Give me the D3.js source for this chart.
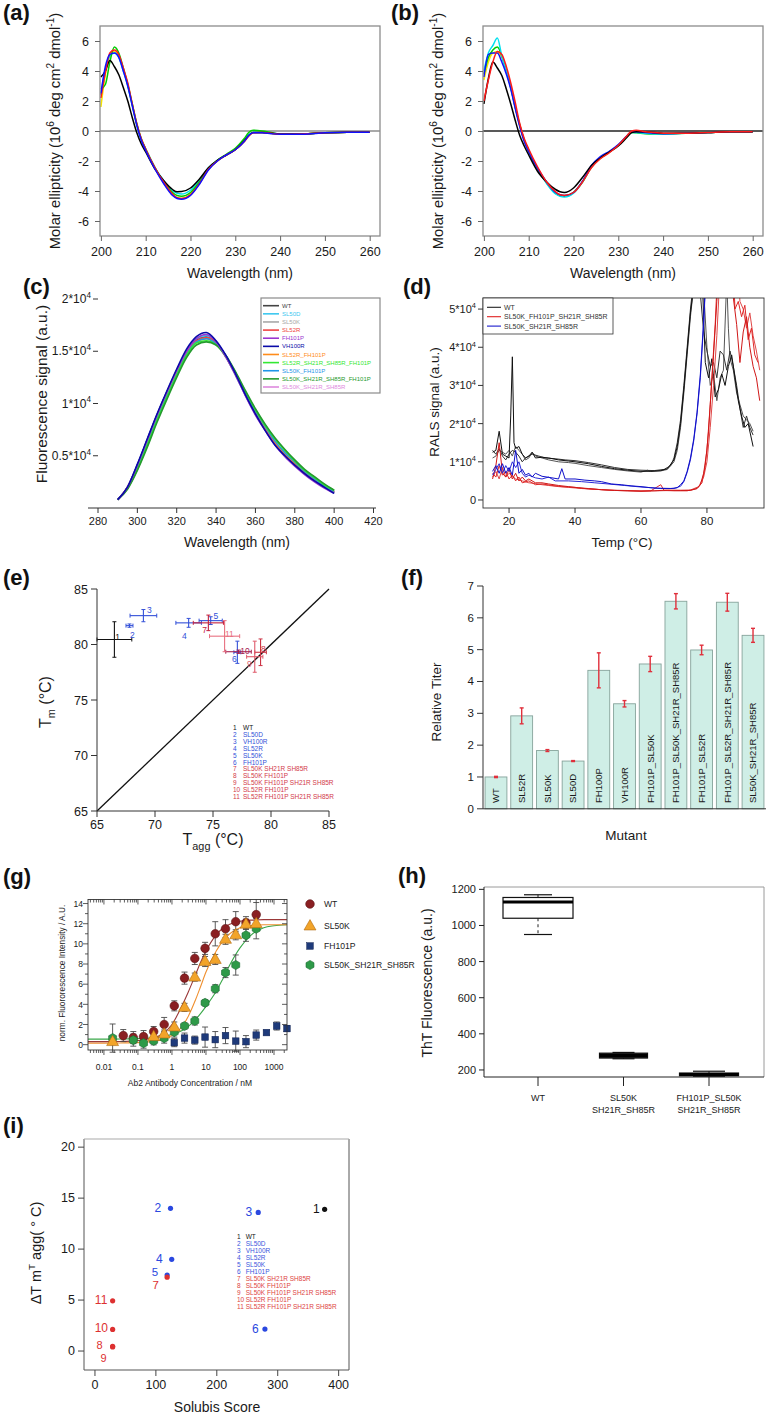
<!DOCTYPE html>
<html><head><meta charset="utf-8">
<script src="https://cdn.jsdelivr.net/npm/d3@7"></script>
<style>body{margin:0;background:#fff}svg{display:block}</style>
</head><body><svg id="fig" width="768" height="1416"></svg>
<script>
// ================= DATA =================
// (a),(b) CD spectra
const cdWavelengths = [200,201,202,203,204,205,206,207,208,209,210,212,214,216,217,218,220,222,224,226,228,230,232,233,234,236,238,240,245,250,255,260];
const cdA_black  = [3.6,4.0,4.7,4.3,3.75,2.9,2.0,0.9,-0.1,-0.85,-1.4,-2.5,-3.3,-3.9,-4.05,-4.04,-3.8,-3.2,-2.45,-1.95,-1.6,-1.25,-0.65,-0.3,-0.1,-0.1,-0.15,-0.2,-0.2,-0.12,-0.08,-0.08];
const cdA_red    = [2.2,3.9,5.2,5.4,5.1,4.2,3.2,1.8,0.5,-0.5,-1.2,-2.4,-3.4,-4.2,-4.45,-4.5,-4.25,-3.5,-2.55,-2.0,-1.6,-1.25,-0.7,-0.35,-0.12,-0.1,-0.15,-0.22,-0.2,-0.12,-0.08,-0.08];
const cdA_blue   = [2.5,4.3,5.1,5.2,4.9,4.0,3.0,1.7,0.4,-0.6,-1.3,-2.5,-3.5,-4.3,-4.5,-4.55,-4.3,-3.55,-2.6,-2.0,-1.6,-1.25,-0.7,-0.3,-0.12,-0.12,-0.18,-0.22,-0.22,-0.12,-0.08,-0.08];
const cdA_cyan   = [2.4,4.1,5.0,5.2,4.9,4.0,3.0,1.7,0.4,-0.6,-1.2,-2.4,-3.3,-4.0,-4.15,-4.2,-3.95,-3.3,-2.45,-1.95,-1.6,-1.2,-0.65,-0.25,-0.08,-0.1,-0.15,-0.2,-0.2,-0.12,-0.08,-0.08];
const cdA_green  = [2.8,3.1,4.6,5.6,5.2,4.2,3.1,1.8,0.5,-0.5,-1.2,-2.4,-3.4,-4.1,-4.3,-4.35,-4.1,-3.4,-2.5,-1.95,-1.55,-1.15,-0.5,-0.1,0.05,0.0,-0.1,-0.2,-0.2,-0.12,-0.08,-0.08];
const cdA_yellow = [1.6,3.8,5.0,5.3,5.0,4.1,3.1,1.8,0.45,-0.55,-1.25,-2.45,-3.45,-4.25,-4.45,-4.5,-4.2,-3.45,-2.55,-2.0,-1.6,-1.25,-0.7,-0.3,-0.1,-0.1,-0.15,-0.22,-0.2,-0.12,-0.08,-0.08];
const cdB_black  = [1.8,3.5,4.6,4.2,3.7,2.8,1.8,0.7,-0.3,-1.0,-1.6,-2.7,-3.4,-3.9,-4.05,-4.1,-3.8,-3.1,-2.3,-1.8,-1.4,-1.0,-0.4,-0.1,-0.05,-0.05,-0.1,-0.15,-0.15,-0.1,-0.05,-0.05];
const cdB_red    = [2.0,3.4,4.6,5.3,5.1,4.3,3.2,1.9,0.5,-0.5,-1.2,-2.4,-3.4,-4.05,-4.25,-4.3,-4.1,-3.4,-2.45,-1.85,-1.45,-0.95,-0.3,0.0,0.05,-0.05,-0.1,-0.15,-0.15,-0.1,-0.05,-0.05];
const cdB_blue   = [3.6,5.1,5.2,5.2,4.6,3.8,2.8,1.5,0.3,-0.7,-1.4,-2.5,-3.4,-4.1,-4.25,-4.3,-4.1,-3.35,-2.3,-1.7,-1.35,-0.9,-0.3,-0.05,-0.05,-0.1,-0.15,-0.18,-0.15,-0.1,-0.05,-0.05];
const cdB_cyan   = [4.0,5.2,5.7,6.2,5.0,4.0,2.9,1.6,0.4,-0.6,-1.3,-2.5,-3.5,-4.2,-4.35,-4.4,-4.15,-3.4,-2.4,-1.8,-1.4,-0.95,-0.35,-0.1,-0.1,-0.15,-0.2,-0.2,-0.15,-0.1,-0.05,-0.05];
const cdB_green  = [3.8,4.9,5.4,5.6,5.0,4.0,2.9,1.6,0.4,-0.6,-1.3,-2.5,-3.45,-4.15,-4.3,-4.35,-4.1,-3.4,-2.4,-1.8,-1.4,-0.95,-0.35,-0.1,-0.12,-0.18,-0.2,-0.2,-0.15,-0.1,-0.05,-0.05];
const cdB_yellow = [3.4,4.6,5.2,5.3,4.9,4.0,2.9,1.6,0.4,-0.6,-1.3,-2.5,-3.45,-4.15,-4.3,-4.3,-4.1,-3.4,-2.4,-1.8,-1.4,-0.95,-0.3,-0.05,-0.05,-0.1,-0.15,-0.18,-0.15,-0.1,-0.05,-0.05];
const cdTicksX = [200,210,220,230,240,250,260];
const cdTicksY = [-6,-4,-2,0,2,4,6];

// (c) intrinsic fluorescence (units of 10^4)
const fluorWavelengths = [290,295,300,305,310,315,320,325,330,335,340,345,350,355,360,365,370,375,380,385,390,395,400];
const fluorNames = ['WT','SL50D','SL50K','SL52R','FH101P','VH100R','SL52R_FH101P','SL52R_SH21R_SH85R_FH101P','SL50K_FH101P','SL50K_SH21R_SH85R_FH101P','SL50K_SH21R_SH85R'];
const fl_WT     = [0.08,0.20,0.41,0.65,0.89,1.11,1.31,1.50,1.61,1.64,1.58,1.45,1.27,1.08,0.90,0.75,0.61,0.50,0.41,0.33,0.26,0.20,0.15];
const fl_SL50D  = [0.08,0.20,0.41,0.65,0.89,1.11,1.31,1.50,1.62,1.65,1.59,1.45,1.27,1.08,0.90,0.75,0.61,0.50,0.41,0.33,0.26,0.20,0.14];
const fl_SL50K  = [0.08,0.20,0.40,0.64,0.88,1.10,1.30,1.49,1.61,1.64,1.58,1.45,1.27,1.08,0.90,0.75,0.61,0.50,0.41,0.33,0.26,0.20,0.15];
const fl_SL52R  = [0.08,0.20,0.40,0.64,0.88,1.10,1.30,1.49,1.60,1.63,1.58,1.45,1.28,1.09,0.91,0.76,0.62,0.51,0.42,0.34,0.27,0.21,0.15];
const fl_FH101P = [0.08,0.20,0.41,0.65,0.89,1.11,1.32,1.50,1.62,1.66,1.59,1.45,1.27,1.07,0.89,0.74,0.60,0.49,0.40,0.32,0.25,0.19,0.14];
const fl_VH100R = [0.08,0.20,0.42,0.66,0.90,1.12,1.33,1.52,1.64,1.68,1.60,1.46,1.28,1.08,0.90,0.74,0.60,0.50,0.41,0.33,0.26,0.20,0.14];
const fl_SL52R_FH101P = [0.08,0.19,0.39,0.62,0.86,1.08,1.29,1.47,1.59,1.62,1.57,1.45,1.28,1.09,0.92,0.77,0.63,0.52,0.43,0.35,0.28,0.21,0.16];
const fl_SL52R_SH21R_SH85R_FH101P = [0.08,0.19,0.37,0.60,0.84,1.06,1.27,1.46,1.58,1.60,1.56,1.45,1.29,1.11,0.94,0.79,0.66,0.55,0.45,0.36,0.29,0.22,0.17];
const fl_SL50K_FH101P = [0.08,0.19,0.38,0.61,0.85,1.07,1.28,1.47,1.59,1.62,1.57,1.45,1.29,1.10,0.93,0.78,0.64,0.53,0.44,0.35,0.28,0.21,0.16];
const fl_SL50K_SH21R_SH85R_FH101P = [0.08,0.18,0.36,0.58,0.82,1.04,1.25,1.44,1.56,1.59,1.56,1.46,1.30,1.12,0.95,0.80,0.67,0.56,0.46,0.37,0.30,0.23,0.17];
const fl_SL50K_SH21R_SH85R = [0.08,0.20,0.40,0.63,0.87,1.09,1.29,1.48,1.60,1.63,1.57,1.44,1.27,1.08,0.90,0.75,0.61,0.50,0.41,0.33,0.26,0.20,0.15];
const fluorTicksX = [280,300,320,340,360,380,400,420];
const fluorTicksY = [0.5,1,1.5,2];

// (d) RALS  [temperature, signal/10^4]
const ralsNames = ['WT','SL50K_FH101P_SH21R_SH85R','SL50K_SH21R_SH85R'];
const ralsWT1 = [[15,1.25],[16,1.3],[17,1.8],[18,1.2],[19,1.15],[20,1.1],[20.5,2.2],[21,3.75],[21.5,1.5],[22,1.35],[23,1.4],[24,1.2],[25,1.1],[26,1.15],[27,1.25],[28,1.1],[30,1.12],[32,1.1],[35,1.05],[38,1.02],[40,1.0],[44,0.95],[48,0.88],[52,0.82],[56,0.78],[60,0.75],[63,0.75],[66,0.77],[68,0.82],[70,1.05],[71,1.4],[72,2.0],[73,2.9],[74,3.9],[75,4.9],[76,5.6],[77,7],[78.5,6],[79.5,3.6],[80.5,3.2],[81.5,3.7],[82.5,2.7],[83.5,2.9],[84.5,3.3],[85.5,3.0],[86.5,3.5],[87.5,3.8],[88.5,3.2],[89.5,2.6],[90.5,2.2],[91.5,1.9],[92.5,2.0],[94,1.4]];
const ralsWT2 = [[15,1.1],[16,1.15],[17,1.3],[18,1.25],[19,1.2],[20,1.3],[21,1.15],[22,1.4],[23,1.3],[24,1.2],[25,1.05],[26,1.1],[27,1.25],[28,1.15],[30,1.1],[32,1.05],[35,1.0],[38,0.98],[40,0.96],[44,0.9],[48,0.85],[52,0.8],[56,0.76],[60,0.73],[62,0.78],[63,0.75],[66,0.76],[68,0.8],[70,1.0],[71,1.3],[72,1.9],[73,2.8],[74,3.8],[75,4.8],[76,5.6],[77,7],[79,5.5],[80,4.0],[81,3.0],[82,3.3],[83,2.6],[84,3.2],[85,3.4],[86,5.8],[86.5,4.5],[87,3.7],[88,3.4],[89,2.8],[90,2.5],[91,2.2],[92,2.1],[93,2.0],[94,1.8]];
const ralsWT3 = [[15,1.3],[16,1.2],[17,1.35],[18,1.15],[19,1.05],[20,1.2],[21,1.3],[22,1.25],[23,1.15],[24,1.0],[25,1.1],[27,1.2],[29,1.15],[31,1.1],[34,1.08],[37,1.05],[40,1.03],[44,0.98],[48,0.92],[52,0.85],[56,0.8],[60,0.78],[64,0.77],[67,0.8],[69,0.9],[70,1.1],[71,1.5],[72,2.1],[73,3.0],[74,4.0],[75,5.0],[76,5.8],[77,7],[78,5.4],[79,4.4],[80,3.9],[81,3.5],[82,3.6],[83,3.2],[84,3.9],[85,3.8],[86,3.4],[87,3.9],[88,3.5],[89,3.0],[90,2.4],[91,1.9],[92,2.2],[93,1.9],[94,1.7]];
const ralsRed1 = [[15,0.55],[16,0.9],[17,1.5],[18,0.7],[19,0.6],[20,0.8],[21,0.55],[22,0.7],[23,0.5],[24,0.6],[25,0.5],[26,0.55],[28,0.45],[30,0.45],[32,0.42],[35,0.38],[38,0.35],[41,0.32],[44,0.3],[48,0.27],[52,0.25],[56,0.24],[60,0.23],[64,0.24],[68,0.26],[72,0.25],[75,0.25],[77,0.3],[78,0.4],[79,0.7],[80,1.3],[81,2.5],[82,3.8],[83,5.2],[84,7],[87,7],[88,5.3],[89,4.6],[90,3.6],[91,4.4],[92,4.8],[93,4.0],[94,3.5],[95,3.2],[96,2.6]];
const ralsRed2 = [[15,0.7],[16,0.6],[17,0.9],[18,0.65],[19,0.75],[20,0.55],[21,0.65],[22,0.5],[23,0.6],[24,0.45],[26,0.5],[28,0.4],[30,0.42],[33,0.38],[36,0.35],[40,0.33],[44,0.29],[48,0.27],[52,0.25],[56,0.24],[60,0.23],[63,0.24],[66,0.4],[67,0.25],[70,0.24],[74,0.24],[77,0.3],[78.5,0.45],[79.5,0.9],[80.5,1.8],[81.5,3.2],[82.5,4.6],[83.5,6.5],[87.5,7],[88.5,5.0],[89.5,5.2],[90.5,4.8],[91.5,5.1],[92.5,4.2],[93.5,4.5],[94.5,3.8],[95.5,3.6]];
const ralsRed3 = [[15,0.6],[16,0.75],[17,0.55],[18,0.85],[19,0.6],[20,0.7],[22,0.55],[24,0.5],[26,0.45],[28,0.43],[30,0.4],[32,0.38],[35,0.35],[38,0.33],[42,0.3],[46,0.28],[50,0.26],[55,0.25],[60,0.24],[65,0.24],[70,0.25],[75,0.26],[77.5,0.35],[79,0.6],[80,1.0],[81,1.9],[82,3.0],[83,4.3],[84,6],[89,7],[90,5.2],[91,5.0],[92,4.5],[93,4.9],[94,4.3],[95,3.9],[96,3.4]];
const ralsBlue1 = [[15,0.75],[16,0.9],[17,0.7],[18,0.95],[19,0.7],[20,0.85],[21,0.65],[22,1.3],[23,0.7],[24,0.8],[25,0.65],[26,0.7],[27,0.6],[28,0.7],[30,0.62],[33,0.58],[35,0.55],[36,0.82],[37,0.55],[40,0.55],[43,0.52],[46,0.5],[48,0.48],[51,0.42],[54,0.4],[57,0.37],[60,0.35],[63,0.32],[66,0.3],[69,0.3],[71,0.32],[72,0.4],[73,0.5],[74,0.75],[75,1.1],[76,1.6],[77,2.3],[78,3.3],[79,4.7],[80,6.5]];
const ralsBlue2 = [[15,0.65],[16,0.8],[17,0.95],[18,0.7],[19,0.9],[20,0.75],[21,1.0],[22,0.85],[23,1.0],[24,0.7],[25,0.6],[26,0.65],[28,0.58],[30,0.55],[32,0.6],[34,0.5],[38,0.5],[42,0.48],[46,0.45],[50,0.42],[55,0.38],[60,0.34],[65,0.31],[70,0.3],[72,0.36],[73,0.48],[74,0.72],[75,1.05],[76,1.55],[77,2.25],[78,3.2],[79,4.6],[80,6.4]];
const ralsTicksX = [20,40,60,80];
const ralsTicksY = [0,1,2,3,4,5];

// (e) Tm vs Tagg
const variantIds = [1,2,3,4,5,6,7,8,9,10,11];
const variantNames = ['WT','SL50D','VH100R','SL52R','SL50K','FH101P','SL50K SH21R SH85R','SL50K FH101P','SL50K FH101P SH21R SH85R','SL52R FH101P','SL52R FH101P SH21R SH85R'];
const tagg    = [66.5,67.8,69.0,72.9,74.8,77.1,74.6,79.1,78.6,77.2,76.0];
const taggErr = [1.5,0.3,1.15,1.1,1.0,0.3,1.3,0.5,0.7,1.1,1.3];
const tm      = [80.45,81.7,82.6,81.95,82.15,79.3,81.95,79.3,78.9,79.35,80.75];
const tmErr   = [1.6,0.15,0.55,0.4,0.35,1.0,0.7,1.2,1.4,0.15,1.4];
const eTicks = [65,70,75,80,85];

// (f) relative titer
const mutants = ['WT','SL52R','SL50K','SL50D','FH100P','VH100R','FH101P_SL50K','FH101P_SL50K_SH21R_SH85R','FH101P_SL52R','FH101P_SL52R_SH21R_SH85R','SL50K_SH21R_SH85R'];
const titer    = [1.0,2.92,1.83,1.5,4.35,3.3,4.55,6.52,4.99,6.49,5.45];
const titerErr = [0.02,0.25,0.03,0.015,0.55,0.1,0.24,0.24,0.15,0.28,0.22];
const titerTicks = [0,1,2,3,4,5,6,7];

// (g) binding titration
const gLegend = ['WT','SL50K','FH101P','SL50K_SH21R_SH85R'];
const gConcWT = [0.037,0.073,0.146,0.29,0.59,1.17,2.34,4.69,9.4,18.75,37.5,75,150,300];
const gWT     = [0.9,0.7,0.8,1.3,2.0,3.85,6.6,8.55,9.55,11.0,11.5,12.2,12.1,12.9];
const gWTerr  = [0.6,0.6,0.6,0.5,0.7,0.5,0.6,0.6,0.6,1.2,0.9,1.0,0.6,1.2];
const gConcSL50K = [0.018,0.29,0.59,1.17,2.34,4.69,9.4,18.75,37.5,75,150,300];
const gSL50K     = [0.3,0.8,1.05,1.75,3.7,6.7,8.25,8.45,10.45,10.9,11.95,12.0];
const gSL50Kerr  = [0.3,0.4,0.4,0.5,0.4,0.4,0.5,0.5,0.5,0.5,0.5,0.6];
const gConcFH = [1.17,2.34,4.69,9.4,18.75,37.5,75,150,300,600,1200,2400];
const gFH     = [0.2,0.65,0.45,0.75,0.5,0.9,0.35,0.3,0.95,1.2,1.85,1.6];
const gFHerr  = [0.4,0.5,0.4,1.0,0.8,0.8,1.0,0.6,0.5,0.2,0.4,0.3];
const gConcGR = [0.018,0.073,0.146,0.29,0.59,1.17,2.34,4.69,9.4,18.75,37.5,75,150,300];
const gGR     = [0.65,0.45,0.15,0.38,0.65,1.25,1.85,2.35,4.15,5.55,7.15,7.9,10.85,11.5];
const gGRerr  = [1.4,0.6,0.5,0.4,0.5,0.5,0.3,0.4,0.3,0.4,0.5,1.0,0.6,1.0];
const gFitConc  = [0.003,0.01,0.03,0.1,0.3,0.5,1,2,3,5,7,10,20,30,50,100,200,500,1000,2400];
const gFitWT    = [0.3,0.3,0.32,0.4,0.7,1.0,2.0,3.9,5.2,7.0,8.2,9.3,10.9,11.5,11.95,12.25,12.35,12.4,12.4,12.4];
const gFitSL50K = [0.15,0.15,0.17,0.2,0.35,0.5,0.9,1.8,2.8,4.5,5.8,7.2,9.3,10.2,11.0,11.6,11.8,11.9,11.9,11.9];
const gFitGR    = [0.55,0.55,0.56,0.6,0.7,0.8,1.0,1.4,1.8,2.5,3.1,3.8,5.3,6.4,7.9,9.6,10.8,11.6,11.8,11.9];
const gTicksX = [0.01,0.1,1,10,100,1000];
const gTicksY = [0,2,4,6,8,10,12,14];

// (h) ThT box plots
const thtGroups = [['WT'],['SL50K','SH21R_SH85R'],['FH101P_SL50K','SH21R_SH85R']];
const thtMin = [950,262,165];
const thtQ1  = [1040,266,168];
const thtMed = [1130,280,175];
const thtQ3  = [1155,293,183];
const thtMax = [1170,297,193];
const thtTicks = [200,400,600,800,1000,1200];

// (i) Solubis
const solubis = [377,124,268,126,118.5,279,118.5,29,29,29,29];
const dTagg   = [13.9,14.0,13.6,9.0,7.45,2.15,7.25,0.46,0.4,2.12,4.93];
const iTicksX = [0,100,200,300,400];
const iTicksY = [0,5,10,15,20];

// ================= DRAWING =================
const FONT = '"Liberation Sans", Arial, Helvetica, sans-serif';
const svg = d3.select('#fig').attr('font-family', FONT);
svg.append('rect').attr('width',768).attr('height',1416).attr('fill','#fff');
const defs = svg.append('defs');
function clipRect(id,x,y,w,h){ defs.append('clipPath').attr('id',id).append('rect').attr('x',x).attr('y',y).attr('width',w).attr('height',h); return 'url(#'+id+')'; }
function txt(x,y,s,fs,opts){ const t=svg.append('text').attr('x',x).attr('y',y).attr('font-size',fs).attr('fill','#1a1a1a').text(s); if(opts){for(const k in opts) t.attr(k,opts[k]);} return t; }
function rich(t,parts,fs){ let cur=0; parts.forEach(p=>{ const target = p[1]==='sup' ? -0.42*fs : (p[1]==='sub' ? 0.3*fs : 0); const ts=t.append('tspan').attr('dy',target-cur).text(p[0]); if(p[1]) ts.attr('font-size',fs*0.68); cur=target; }); }
function vtitle(cx,cy,fs,parts){ const t=svg.append('text').attr('transform','translate('+(cx+0.35*fs)+','+cy+') rotate(-90)').attr('text-anchor','middle').attr('font-size',fs).attr('fill','#1a1a1a'); rich(t,parts,fs); return t; }
function htitle(cx,y,fs,parts){ const t=svg.append('text').attr('x',cx).attr('y',y).attr('text-anchor','middle').attr('font-size',fs).attr('fill','#1a1a1a'); rich(t,parts,fs); return t; }
function styleAxis(a,fs,col){ a.select('.domain').remove(); a.attr('font-family',FONT); a.selectAll('text').attr('font-size',fs).attr('fill','#1a1a1a').attr('font-family',FONT); a.selectAll('line').attr('stroke',col||'#333'); }
function panelLabel(t,x,y){ txt(x,y,t,22,{'font-weight':'bold','fill':'#111'}); }
function hline(x1,x2,y,c,w){ svg.append('line').attr('x1',x1).attr('x2',x2).attr('y1',y).attr('y2',y).attr('stroke',c).attr('stroke-width',w||1); }
function vline(x,y1,y2,c,w){ svg.append('line').attr('x1',x).attr('x2',x).attr('y1',y1).attr('y2',y2).attr('stroke',c).attr('stroke-width',w||1); }

// ---------- (a),(b) ----------
function cdPanel(ox, series, zeroColor){
  const x=d3.scaleLinear().domain([199.8,262.3]).range([ox,ox+280]);
  const y=d3.scaleLinear().domain([-7,7]).range([236,26]);
  const g=svg.append('g');
  g.append('line').attr('x1',ox).attr('x2',ox+280).attr('y1',y(0)).attr('y2',y(0)).attr('stroke',zeroColor).attr('stroke-width',1.3);
  const ln=d3.line().x((d,i)=>x(cdWavelengths[i])).y(d=>y(d)).curve(d3.curveMonotoneX);
  series.forEach(s=>g.append('path').attr('d',ln(s.v)).attr('fill','none').attr('stroke',s.c).attr('stroke-width',1.5));
  g.append('rect').attr('x',ox).attr('y',26).attr('width',280).attr('height',210).attr('fill','none').attr('stroke','#8c8c8c').attr('stroke-width',1.3);
  const xa=g.append('g').attr('transform','translate(0,236)').call(d3.axisBottom(x).tickValues(cdTicksX).tickSize(5).tickPadding(6).tickFormat(d=>String(d)));
  const ya=g.append('g').attr('transform','translate('+ox+',0)').call(d3.axisLeft(y).tickValues(cdTicksY).tickSize(5).tickPadding(6).tickFormat(d=>String(d)));
  styleAxis(xa,12.5,'#666'); styleAxis(ya,12.5,'#666');
  vtitle(ox-45,131,14.8,[['Molar ellipticity (10',null],['6','sup'],[' deg cm',null],['2','sup'],[' dmol',null],['-1','sup'],[')',null]]);
  htitle(ox+140,278,14,[['Wavelength (nm)',null]]);
}
cdPanel(100,[{v:cdA_yellow,c:'#f5e400'},{v:cdA_cyan,c:'#00e0ee'},{v:cdA_green,c:'#00cc00'},{v:cdA_black,c:'#000'},{v:cdA_red,c:'#ff1a1a'},{v:cdA_blue,c:'#1010ff'}],'#8c8c8c');
cdPanel(483,[{v:cdB_yellow,c:'#f5e400'},{v:cdB_green,c:'#00cc00'},{v:cdB_cyan,c:'#00e0ee'},{v:cdB_blue,c:'#1010ff'},{v:cdB_black,c:'#000'},{v:cdB_red,c:'#ff1a1a'}],'#222');
panelLabel('(a)',3,20); panelLabel('(b)',391,20);

// ---------- (c) ----------
{
  const x=d3.scaleLinear().domain([280,420]).range([98,373.5]);
  const y=d3.scaleLinear().domain([0,2]).range([508,299]);
  const colors=['#444','#3cc8f0','#a8a8a8','#ee4444','#9a35d0','#0a0aa8','#ff8c1a','#33e833','#1f95e8','#249a2e','#de8ade'];
  const vals=[fl_WT,fl_SL50D,fl_SL50K,fl_SL52R,fl_FH101P,fl_VH100R,fl_SL52R_FH101P,fl_SL52R_SH21R_SH85R_FH101P,fl_SL50K_FH101P,fl_SL50K_SH21R_SH85R_FH101P,fl_SL50K_SH21R_SH85R];
  const order=[2,10,0,1,3,6,8,7,9,4,5];
  const ln=d3.line().x((d,i)=>x(fluorWavelengths[i])).y(d=>y(d)).curve(d3.curveMonotoneX);
  order.forEach(k=>svg.append('path').attr('d',ln(vals[k])).attr('fill','none').attr('stroke',colors[k]).attr('stroke-width',1.6));
  hline(88,376,508,'#333',1);
  fluorTicksX.forEach(v=>{ vline(x(v),508,513,'#333'); txt(x(v),525,String(v),11,{'text-anchor':'middle'}); });
  fluorTicksY.forEach(v=>{ hline(93,98,y(v),'#333'); const t=svg.append('text').attr('x',91).attr('y',y(v)+4).attr('text-anchor','end').attr('font-size',12).attr('fill','#1a1a1a'); rich(t,[[String(v)+'*10',null],['4','sup']],12); });
  svg.append('rect').attr('x',261).attr('y',298).attr('width',119).attr('height',95).attr('fill','#fff').attr('stroke','#8a8a8a').attr('stroke-width',1.2);
  fluorNames.forEach((n,i)=>{ const yy=305.7+i*8.13; hline(263,279,yy,colors[i],1.6); txt(282,yy+2.1,n,6,{'fill':colors[i]}); });
  vtitle(42,394,15.5,[['Fluorescence signal (a.u.)',null]]);
  htitle(237,547,14,[['Wavelength (nm)',null]]);
  panelLabel('(c)',23,294);
}

// ---------- (d) ----------
{
  const x=d3.scaleLinear().domain([12.1,97.3]).range([483,764]);
  const y=d3.scaleLinear().domain([-0.21,5.29]).range([508,298]);
  const cp=clipRect('clipD',483,298,281,210);
  const ln=d3.line().x(d=>x(d[0])).y(d=>y(d[1]));
  const g=svg.append('g').attr('clip-path',cp);
  [[ralsWT2,'#555'],[ralsWT3,'#333'],[ralsWT1,'#111'],[ralsRed3,'#e04848'],[ralsRed2,'#e02828'],[ralsRed1,'#d01818'],[ralsBlue2,'#2a2ad8'],[ralsBlue1,'#1010c8']].forEach(s=>g.append('path').attr('d',ln(s[0])).attr('fill','none').attr('stroke',s[1]).attr('stroke-width',1));
  svg.append('rect').attr('x',483).attr('y',298).attr('width',281).attr('height',210).attr('fill','none').attr('stroke','#333').attr('stroke-width',0.9);
  ralsTicksX.forEach(v=>{ vline(x(v),508,513,'#333'); txt(x(v),525,String(v),11.5,{'text-anchor':'middle'}); });
  ralsTicksY.forEach(v=>{ hline(478,483,y(v),'#333'); const t=svg.append('text').attr('x',476).attr('y',y(v)+4).attr('text-anchor','end').attr('font-size',11).attr('fill','#1a1a1a'); if(v===0) t.text('0'); else rich(t,[[v+'*10',null],['4','sup']],11); });
  svg.append('rect').attr('x',483).attr('y',298).attr('width',130).attr('height',36).attr('fill','#fff').attr('stroke','#333').attr('stroke-width',0.8);
  const lc=['#222','#e02020','#1a1acc'];
  ralsNames.forEach((n,i)=>{ const yy=307.3+i*9.4; hline(487,501,yy,lc[i],1.1); txt(504,yy+2.4,n,7,{'fill':'#333'}); });
  vtitle(434,402,13.5,[['RALS signal (a.u.)',null]]);
  htitle(622,547,13.5,[['Temp (°C)',null]]);
  panelLabel('(d)',403,294);
}

// ---------- (e) ----------
{
  const x=d3.scaleLinear().domain([65,85]).range([97,329]);
  const y=d3.scaleLinear().domain([65,85]).range([811,589]);
  const cols=['#111','#3350d8','#3350d8','#3350d8','#3350d8','#3350d8','#c4203c','#cc3344','#df5a6a','#a52050','#e87080'];
  const legCols=['#111','#3350d8','#3350d8','#3350d8','#3350d8','#3350d8','#d23a4a','#d23a4a','#d23a4a','#d23a4a','#d23a4a'];
  svg.append('line').attr('x1',x(65)).attr('y1',y(65)).attr('x2',x(85)).attr('y2',y(85)).attr('stroke','#111').attr('stroke-width',1.3);
  const labelOffsets=[[3.3,-2.5],[2.8,9.1],[5.9,-5.9],[-4.3,13.6],[5.3,-4.2],[-3.1,7.2],[-3.7,7.6],[2.7,-3.5],[-5.5,7.4],[6.5,-0.5],[4.7,-2.2]];
  variantIds.forEach((id,i)=>{
    const cx=x(tagg[i]), cy=y(tm[i]), c=cols[i];
    const x1=x(tagg[i]-taggErr[i]), x2=x(tagg[i]+taggErr[i]);
    const y1=y(tm[i]-tmErr[i]), y2=y(tm[i]+tmErr[i]);
    hline(x1,x2,cy,c,1.1); vline(x1,cy-2,cy+2,c,1); vline(x2,cy-2,cy+2,c,1);
    vline(cx,y1,y2,c,1.1); hline(cx-2,cx+2,y1,c,1); hline(cx-2,cx+2,y2,c,1);
    txt(cx+labelOffsets[i][0],cy+labelOffsets[i][1]+3,String(id),8.5,{'text-anchor':'middle','fill':c});
  });
  hline(97,329,811,'#333',1); vline(97,589,811,'#333',1);
  eTicks.forEach(v=>{ hline(91,97,y(v),'#333'); txt(88,y(v)+4.5,String(v),12.5,{'text-anchor':'end'}); vline(x(v),811,817,'#333'); txt(x(v),829,String(v),12.5,{'text-anchor':'middle'}); });
  variantIds.forEach((id,i)=>{ const yy=730+i*6.9; txt(233,yy,String(id),6.5,{'fill':legCols[i]}); txt(243,yy,variantNames[i],6.5,{'fill':legCols[i]}); });
  vtitle(45,702,16,[['T',null],['m','sub'],[' (°C)',null]]);
  htitle(213,845,16,[['T',null],['agg','sub'],[' (°C)',null]]);
  panelLabel('(e)',3,585);
}

// ---------- (f) ----------
{
  const x=d3.scaleBand().domain(mutants).range([483,766]).paddingInner(0.15).paddingOuter(0.08);
  const y=d3.scaleLinear().domain([0,7]).range([808.8,586]);
  mutants.forEach((m,i)=>{
    const bx=x(m), bw=x.bandwidth(), cx=bx+bw/2;
    svg.append('rect').attr('x',bx).attr('y',y(titer[i])).attr('width',bw).attr('height',y(0)-y(titer[i])).attr('fill','#cfeee6').attr('stroke','#86a39b').attr('stroke-width',0.9);
    const e1=y(titer[i]-titerErr[i]), e2=y(titer[i]+titerErr[i]);
    vline(cx,e1,e2,'#e0303c',1.4); hline(cx-2,cx+2,e1,'#e0303c',1.4); hline(cx-2,cx+2,e2,'#e0303c',1.4);
    svg.append('text').attr('transform','translate('+(cx+3.3)+',803) rotate(-90)').attr('font-size',9.5).attr('fill','#1a1a1a').text(m);
  });
  vline(483,586,808.8,'#333',1); hline(483,766,808.8,'#333',1);
  titerTicks.forEach(v=>{ hline(477,483,y(v),'#333'); txt(474,y(v)+4,String(v),11.5,{'text-anchor':'end'}); });
  vtitle(436,702,13.5,[['Relative Titer',null]]);
  htitle(626,840,13.5,[['Mutant',null]]);
  panelLabel('(f)',401,585);
}

// ---------- (g) ----------
{
  const x=d3.scaleLog().domain([0.0034,2410]).range([88,287]);
  const y=d3.scaleLinear().domain([-0.53,14.4]).range([1050,899.5]);
  const cp=clipRect('clipG',88,899.5,199,150.5);
  const ln=d3.line().x((d,i)=>x(gFitConc[i])).y(d=>y(d)).curve(d3.curveMonotoneX);
  const cg=svg.append('g').attr('clip-path',cp);
  cg.append('path').attr('d',ln(gFitGR)).attr('fill','none').attr('stroke','#3aa84a').attr('stroke-width',1.1);
  cg.append('path').attr('d',ln(gFitSL50K)).attr('fill','none').attr('stroke','#f09030').attr('stroke-width',1.1);
  cg.append('path').attr('d',ln(gFitWT)).attr('fill','none').attr('stroke','#9a3838').attr('stroke-width',1.1);
  function ebars(conc,vals,errs){ conc.forEach((c,i)=>{ const cx=x(c), a=y(vals[i]-errs[i]), b=y(vals[i]+errs[i]); vline(cx,a,b,'#4a4a4a',0.9); hline(cx-3,cx+3,a,'#4a4a4a',0.9); hline(cx-3,cx+3,b,'#4a4a4a',0.9); }); }
  ebars(gConcWT,gWT,gWTerr); ebars(gConcGR,gGR,gGRerr); ebars(gConcSL50K,gSL50K,gSL50Kerr); ebars(gConcFH,gFH,gFHerr);
  const hex=r=>{ const p=[]; for(let k=0;k<6;k++){ const a=Math.PI/6+k*Math.PI/3; p.push([r*Math.cos(a),r*Math.sin(a)]); } return 'M'+p.map(q=>q.join(',')).join('L')+'Z'; };
  const mk={
    WT:(s,cx,cy)=>s.append('circle').attr('cx',cx).attr('cy',cy).attr('r',4.3).attr('fill','#8a1f22').attr('stroke','#5a1012').attr('stroke-width',0.6),
    SL50K:(s,cx,cy)=>s.append('path').attr('d',d3.symbol(d3.symbolTriangle,62)()).attr('transform','translate('+cx+','+(cy+0.5)+')').attr('fill','#f2a42a').attr('stroke','#b06a10').attr('stroke-width',0.6),
    FH101P:(s,cx,cy)=>s.append('rect').attr('x',cx-3.3).attr('y',cy-3.3).attr('width',6.6).attr('height',6.6).attr('fill','#1e3a7a').attr('stroke','#0f2050').attr('stroke-width',0.5),
    GR:(s,cx,cy)=>s.append('path').attr('d',hex(4.6)).attr('transform','translate('+cx+','+cy+')').attr('fill','#2e9a48').attr('stroke','#1a6a30').attr('stroke-width',0.6)
  };
  gConcWT.forEach((c,i)=>mk.WT(svg,x(c),y(gWT[i])));
  gConcGR.forEach((c,i)=>mk.GR(svg,x(c),y(gGR[i])));
  gConcSL50K.forEach((c,i)=>mk.SL50K(svg,x(c),y(gSL50K[i])));
  gConcFH.forEach((c,i)=>mk.FH101P(svg,x(c),y(gFH[i])));
  svg.append('rect').attr('x',88).attr('y',899.5).attr('width',199).attr('height',150.5).attr('fill','none').attr('stroke','#333').attr('stroke-width',0.9);
  for(let v=0; v<=14; v++){ const L=(v%2===0)?5:3; hline(88-L,88,y(v),'#333',0.8); hline(287-L,287,y(v),'#333',0.8); }
  gTicksY.forEach(v=>txt(83,y(v)+3.2,String(v),8.5,{'text-anchor':'end'}));
  [0.001,0.01,0.1,1,10,100,1000].forEach(d=>{ for(let m=1;m<=9;m++){ const v=m*d; if(v<0.0034||v>2410) continue; const L=(m===1)?5:3; vline(x(v),1050,1050+L,'#333',0.8); vline(x(v),899.5,899.5+L,'#333',0.8); } });
  gTicksX.forEach(v=>txt(x(v),1070,String(v),8.5,{'text-anchor':'middle'}));
  const legY=[904,926,946,965];
  mk.WT(svg,310,legY[0]); mk.SL50K(svg,310,legY[1]); mk.FH101P(svg,310,legY[2]); mk.GR(svg,310,legY[3]);
  gLegend.forEach((n,i)=>txt(324,legY[i]+3,n,8.6,{'fill':'#222'}));
  vtitle(62,973,8.3,[['norm. Fluororescence Intensity / A.U.',null]]);
  htitle(190,1086,8.5,[['Ab2 Antibody Concentration / nM',null]]);
  panelLabel('(g)',3,884);
}

// ---------- (h) ----------
{
  const y=d3.scaleLinear().domain([161,1213]).range([1077,887]);
  const x=d3.scalePoint().domain(thtGroups.map(g=>g.join(' '))).range([538,709]);
  const boxW=[70,48,59], capW=[28,22,32];
  hline(484,764,887,'#9a9a9a',1); vline(764,887,1077,'#9a9a9a',1);
  thtGroups.forEach((g,i)=>{
    const cx=x(g.join(' ')), w=boxW[i];
    svg.append('line').attr('x1',cx).attr('x2',cx).attr('y1',y(thtQ1[i])).attr('y2',y(thtMin[i])).attr('stroke','#222').attr('stroke-width',1).attr('stroke-dasharray','3,3');
    svg.append('line').attr('x1',cx).attr('x2',cx).attr('y1',y(thtQ3[i])).attr('y2',y(thtMax[i])).attr('stroke','#222').attr('stroke-width',1).attr('stroke-dasharray','3,3');
    hline(cx-capW[i]/2,cx+capW[i]/2,y(thtMin[i]),'#111',1.2); hline(cx-capW[i]/2,cx+capW[i]/2,y(thtMax[i]),'#111',1.2);
    svg.append('rect').attr('x',cx-w/2).attr('y',y(thtQ3[i])).attr('width',w).attr('height',y(thtQ1[i])-y(thtQ3[i])).attr('fill', i===0?'#fff':'#222').attr('stroke','#111').attr('stroke-width',1.2);
    hline(cx-w/2,cx+w/2,y(thtMed[i]),'#000',3);
    vline(cx,1077,1086,'#222',1);
    g.forEach((ln,k)=>txt(cx,1101+k*11.5,ln,9,{'text-anchor':'middle'}));
  });
  vline(484,887,1077,'#222',1); hline(484,764,1077,'#222',1);
  thtTicks.forEach(v=>{ hline(479,484,y(v),'#222'); txt(476,y(v)+4,String(v),11,{'text-anchor':'end'}); });
  vtitle(427,983,14,[['ThT Fluorescence (a.u.)',null]]);
  panelLabel('(h)',398,883);
}

// ---------- (i) ----------
{
  const x=d3.scaleLinear().domain([-18,417]).range([84,349]);
  const y=d3.scaleLinear().domain([-1.86,20.8]).range([1370,1139]);
  vline(84,1139,1370,'#555',1); vline(349,1139,1370,'#555',1); hline(84,349,1370,'#555',1); hline(84,349,1139,'#aaa',1.2);
  iTicksY.forEach(v=>{ hline(78,84,y(v),'#444'); txt(75,y(v)+4.3,String(v),12.5,{'text-anchor':'end'}); });
  iTicksX.forEach(v=>{ vline(x(v),1370,1376,'#444'); txt(x(v),1389,String(v),12.5,{'text-anchor':'middle'}); });
  const cols=['#111','#2a48e0','#2a48e0','#2a48e0','#2a48e0','#2a48e0','#dd3030','#dd3030','#dd3030','#dd3030','#dd3030'];
  const legCols=['#111','#3a55dd','#3a55dd','#3a55dd','#3a55dd','#3a55dd','#dd4444','#dd4444','#dd4444','#dd4444','#dd4444'];
  const lab=[[-2.3,4],[-6.7,4],[-3.4,4],[-6.4,4],[-6.4,1.2],[-3.7,4],[-5.7,11.5],[-7.5,3],[-3.4,15],[-2,2.6],[-2.7,3.6]];
  const labFs=[12,12,12,12,11.5,12,11.5,11,11,12,12];
  variantIds.forEach((id,i)=>{
    const cx=x(solubis[i]), cy=y(dTagg[i]);
    svg.append('circle').attr('cx',cx).attr('cy',cy).attr('r',2.6).attr('fill',cols[i]);
    txt(cx-2.6+lab[i][0],cy+lab[i][1],String(id),labFs[i],{'text-anchor':'end','fill':cols[i]});
  });
  variantIds.forEach((id,i)=>{ const yy=1239+i*7; txt(237,yy,String(id),6.5,{'fill':legCols[i]}); txt(245.7,yy,variantNames[i],6.5,{'fill':legCols[i]}); });
  vtitle(36,1253,14.5,[['ΔT m',null],['T','sup'],[' agg',null],['( ° C)',null]]);
  htitle(217,1412,14,[['Solubis Score',null]]);
  panelLabel('(i)',3,1133);
}
</script></body></html>
